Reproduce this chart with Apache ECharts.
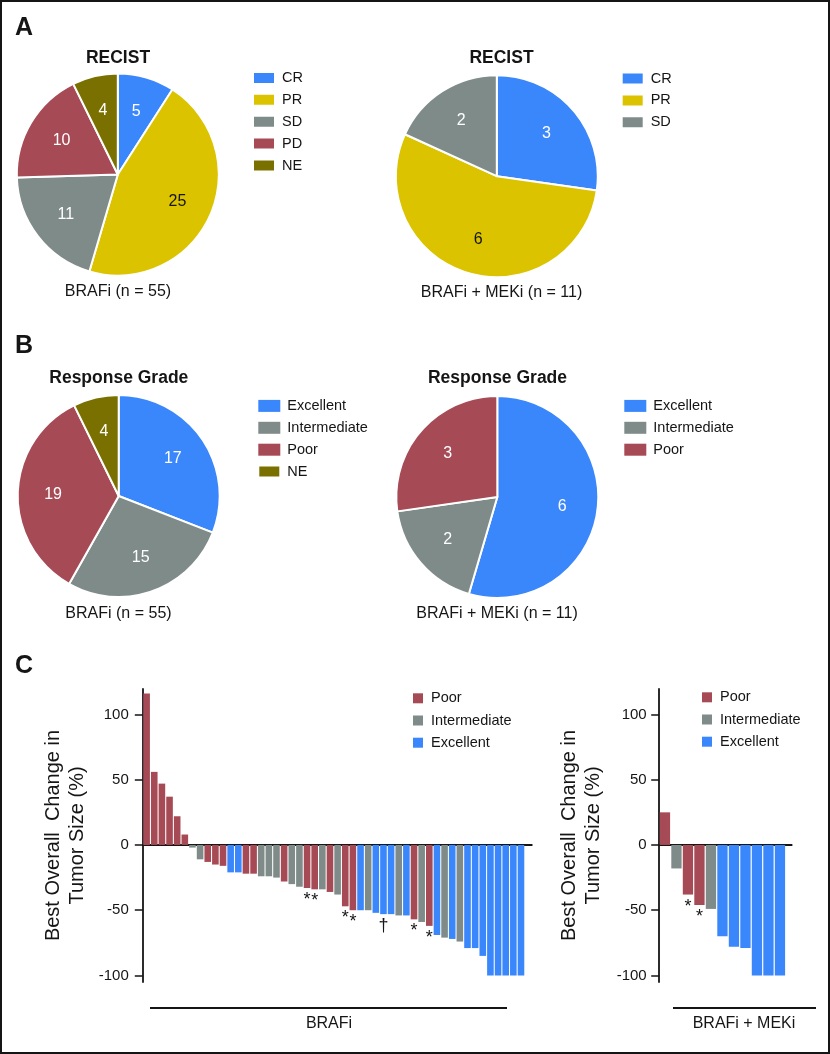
<!DOCTYPE html>
<html><head><meta charset="utf-8">
<script src="https://cdn.jsdelivr.net/npm/echarts@6/dist/echarts.min.js"></script>
<style>html,body{margin:0;padding:0;background:#fff}#c{width:830px;height:1054px}</style>
</head><body><div id="c"></div>
<script>
// ---------- data ----------
const recistCatsBrafi = ['CR', 'PR', 'SD', 'PD', 'NE'];
const recistBrafi = [5, 25, 11, 10, 4];
const recistCatsCombo = ['CR', 'PR', 'SD'];
const recistCombo = [3, 6, 2];
const gradeCatsBrafi = ['Excellent', 'Intermediate', 'Poor', 'NE'];
const gradeBrafi = [17, 15, 19, 4];
const gradeCatsCombo = ['Excellent', 'Intermediate', 'Poor'];
const gradeCombo = [6, 2, 3];

const waterfallGrades = ['Poor', 'Intermediate', 'Excellent'];
const brafiChange = [116, 56, 47, 37, 22, 8, -2, -11, -13, -15, -16, -21, -21, -22, -22, -24, -24, -25, -28, -30,
  -32, -33, -34, -34, -36, -38, -47, -50, -50, -50, -52, -53, -53, -54, -54, -57, -59, -62, -69, -71,
  -72, -74, -79, -79, -85, -100, -100, -100, -100, -100];
const brafiGrade = ['Poor', 'Poor', 'Poor', 'Poor', 'Poor', 'Poor', 'Intermediate', 'Intermediate', 'Poor', 'Poor',
  'Poor', 'Excellent', 'Excellent', 'Poor', 'Poor', 'Intermediate', 'Intermediate', 'Intermediate', 'Poor', 'Intermediate',
  'Intermediate', 'Poor', 'Poor', 'Intermediate', 'Poor', 'Intermediate', 'Poor', 'Poor', 'Excellent', 'Intermediate',
  'Excellent', 'Excellent', 'Excellent', 'Intermediate', 'Excellent', 'Poor', 'Intermediate', 'Poor', 'Excellent', 'Intermediate',
  'Excellent', 'Intermediate', 'Excellent', 'Excellent', 'Excellent', 'Excellent', 'Excellent', 'Excellent', 'Excellent', 'Excellent'];
const brafiNoteIndex = [21, 22, 26, 27, 31, 35, 37];
const brafiNoteText = ['*', '*', '*', '*', '\u2020', '*', '*'];

const comboChange = [25, -18, -38, -46, -49, -70, -78, -79, -100, -100, -100];
const comboGrade = ['Poor', 'Intermediate', 'Poor', 'Poor', 'Intermediate', 'Excellent', 'Excellent', 'Excellent', 'Excellent', 'Excellent', 'Excellent'];
const comboNoteIndex = [2, 3];
const comboNoteText = ['*', '*'];

const yTicks = [-100, -50, 0, 50, 100];

// ---------- style ----------
const FONT = 'Liberation Sans, Arial, Helvetica, sans-serif';
const COLORS = {
  CR: '#3a86fb', PR: '#dbc300', SD: '#7f8b89', PD: '#a64a55', NE: '#7a7000',
  Excellent: '#3a86fb', Intermediate: '#7f8b89', Poor: '#a64a55'
};
const INK = '#151515';

function pieSeries(cats, vals, cx, cy, r) {
  return [
    {
      type: 'pie', center: [cx, cy], radius: r, startAngle: 90, clockwise: true,
      data: cats.map((c, i) => ({ name: c, value: vals[i], itemStyle: { color: COLORS[c] } })),
      label: { show: false }, labelLine: { show: false },
      itemStyle: { borderColor: '#fff', borderWidth: 2 },
      emphasis: { disabled: true }, animation: false
    },
    {
      type: 'pie', center: [cx, cy], radius: r * 1.24, startAngle: 90, clockwise: true,
      data: cats.map((c, i) => ({ value: vals[i], label: { color: c === 'PR' ? INK : '#fff' } })),
      itemStyle: { color: 'rgba(0,0,0,0)' },
      label: { show: true, position: 'inside', formatter: '{c}', fontSize: 16, fontFamily: FONT },
      labelLine: { show: false }, silent: true, emphasis: { disabled: true }, animation: false, z: 3
    }
  ];
}

function barSeries(values, grades, noteIdx, noteTxt, axisIndex, barWidth) {
  return waterfallGrades.map(g => ({
    type: 'bar', name: g, xAxisIndex: axisIndex, yAxisIndex: axisIndex,
    barWidth: barWidth, barGap: '-100%', animation: false,
    itemStyle: { color: COLORS[g] },
    data: values.map((v, i) => {
      if (grades[i] !== g) return null;
      const k = noteIdx.indexOf(i);
      const item = { value: [i + 0.5, v] };
      if (k >= 0) item.label = { show: true, formatter: noteTxt[k], position: 'bottom', distance: 3, fontSize: 18, color: INK, fontFamily: FONT };
      return item;
    }).filter(Boolean)
  }));
}

function legend(names, left, top, iw, ih, gap, pad) {
  return {
    data: names, orient: 'vertical', left: left, top: top, padding: 0,
    icon: 'rect', itemWidth: iw, itemHeight: ih, itemGap: gap, selectedMode: false,
    textStyle: { fontSize: 14.5, fontFamily: FONT, color: INK, padding: [0, 0, 0, pad] }
  };
}

function yAx(grid, margin, gap) {
  return {
    type: 'value', gridIndex: grid, min: -105, max: 119.5,
    axisLine: { show: true, lineStyle: { color: INK, width: 1.8 } },
    axisTick: { show: true, length: 8, customValues: yTicks, lineStyle: { color: INK, width: 1.5 } },
    axisLabel: { customValues: yTicks, margin: margin, fontSize: 15, fontFamily: FONT, color: INK },
    splitLine: { show: false },
    name: 'Best Overall  Change in\nTumor Size (%)', nameLocation: 'middle', nameGap: gap,
    nameTextStyle: { fontSize: 20, lineHeight: 24, fontFamily: FONT, color: INK }
  };
}
function xAx(grid, max) {
  return {
    type: 'value', gridIndex: grid, min: 0, max: max,
    axisLine: { show: true, onZero: true, lineStyle: { color: INK, width: 1.8 } },
    axisTick: { show: false }, axisLabel: { show: false }, splitLine: { show: false }
  };
}

function txt(s, x, y, size, bold) {
  return { type: 'text', x: x, y: y, silent: true,
    style: { text: s, fill: INK, font: (bold ? 'bold ' : '') + size + 'px ' + FONT, align: 'center', verticalAlign: 'middle' } };
}

const option = {
  backgroundColor: '#fff',
  animation: false,
  grid: [
    { left: 142.8, top: 689, width: 389, height: 293 },
    { left: 659.2, top: 689, width: 132.5, height: 293 }
  ],
  xAxis: [xAx(0, 389 / 7.64), xAx(1, 132.5 / 11.5)],
  yAxis: [yAx(0, 14, 53), yAx(1, 12.5, 54)],
  legend: [
    legend(recistCatsBrafi, 252, 70.4, 22, 12, 6.9, 2),
    legend(recistCatsCombo, 620.7, 71, 22, 12, 6.9, 2),
    legend(gradeCatsBrafi, 257.3, 398.4, 22, 12, 6.9, 2),
    legend(gradeCatsCombo, 624.3, 398.4, 22, 12, 6.9, 2),
    legend(waterfallGrades, 413, 690.8, 10, 10, 7.2, 3),
    legend(waterfallGrades, 702, 689.8, 10, 10, 7.2, 3)
  ],
  series: [].concat(
    pieSeries(recistCatsBrafi, recistBrafi, 117.8, 174.5, 101),
    pieSeries(recistCatsCombo, recistCombo, 496.8, 176.2, 101),
    pieSeries(gradeCatsBrafi, gradeBrafi, 118.7, 496, 101),
    pieSeries(gradeCatsCombo, gradeCombo, 497.3, 497, 101),
    barSeries(brafiChange, brafiGrade, brafiNoteIndex, brafiNoteText, 0, 6.6),
    barSeries(comboChange, comboGrade, comboNoteIndex, comboNoteText, 1, 10.3)
  ),
  graphic: [
    { type: 'rect', silent: true, shape: { x: 1, y: 1, width: 828, height: 1052 }, style: { fill: 'none', stroke: INK, lineWidth: 2 } },
    txt('A', 24, 28, 25, true),
    txt('B', 24, 346.5, 25, true),
    txt('C', 24, 666.5, 25, true),
    txt('RECIST', 118, 58.5, 17.5, true),
    txt('RECIST', 501.5, 58.5, 17.5, true),
    txt('Response Grade', 118.8, 378, 17.5, true),
    txt('Response Grade', 497.5, 378, 17.5, true),
    txt('BRAFi (n = 55)', 118, 291.5, 16, false),
    txt('BRAFi + MEKi (n = 11)', 501.5, 292.7, 16, false),
    txt('BRAFi (n = 55)', 118.5, 614, 16, false),
    txt('BRAFi + MEKi (n = 11)', 497, 614, 16, false),
    { type: 'line', silent: true, shape: { x1: 150, y1: 1008, x2: 507, y2: 1008 }, style: { stroke: INK, lineWidth: 1.8 } },
    { type: 'line', silent: true, shape: { x1: 673, y1: 1008, x2: 816, y2: 1008 }, style: { stroke: INK, lineWidth: 1.8 } },
    txt('BRAFi', 329, 1024, 16, false),
    txt('BRAFi + MEKi', 744, 1024, 16, false)
  ]
};

const chart = echarts.init(document.getElementById('c'), null, { renderer: 'canvas' });
chart.setOption(option);
</script>
</body></html>
